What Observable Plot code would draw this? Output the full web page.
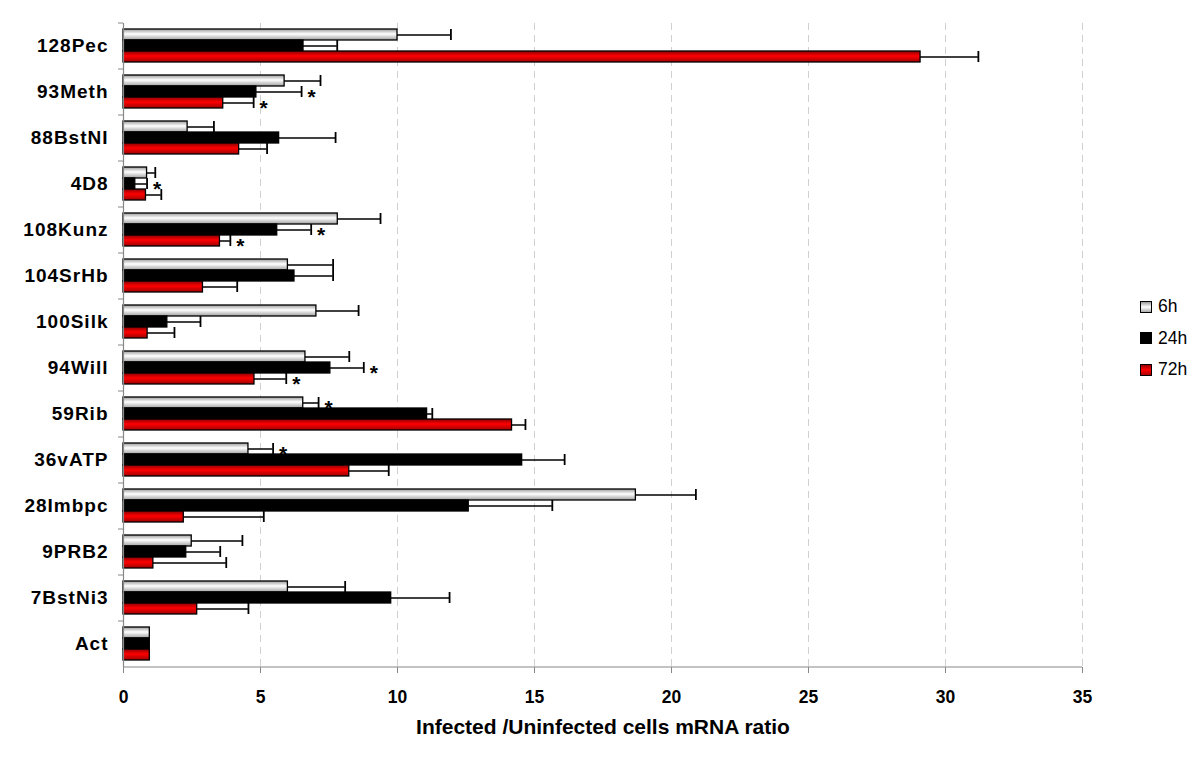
<!DOCTYPE html>
<html><head><meta charset="utf-8">
<script src="https://cdn.jsdelivr.net/npm/d3@7"></script>
<script src="https://cdn.jsdelivr.net/npm/@observablehq/plot@0.6"></script>
<style>
body{margin:0;background:#fff;}
#wrap{position:relative;width:1200px;height:761px;}
#legend{position:absolute;left:1140px;top:291px;font-family:"Liberation Sans",Arial,sans-serif;font-size:17.5px;color:#000;}
#legend .item{display:flex;align-items:center;height:31.5px;}
#legend .sw{width:10px;height:10px;border:1px solid #000;margin-right:6px;box-sizing:content-box;}
</style></head><body><div id="wrap"></div>
<script>
const categories = ["128Pec","93Meth","88BstNI","4D8","108Kunz","104SrHb","100Silk","94Will","59Rib","36vATP","28Imbpc","9PRB2","7BstNi3","Act"];
const series = ["6h","24h","72h"];
const mean6h  = [10.0, 5.88, 2.34, 0.86, 7.82, 6.0, 7.04, 6.64, 6.56, 4.56, 18.7, 2.49, 6.0, 0.96];
const err6h   = [11.95, 7.19, 3.3, 1.16, 9.38, 7.65, 8.58, 8.24, 7.12, 5.46, 20.89, 4.34, 8.09, null];
const mean24h = [6.57, 4.85, 5.68, 0.43, 5.61, 6.24, 1.6, 7.55, 11.08, 14.55, 12.6, 2.29, 9.77, 0.96];
const err24h  = [7.8, 6.5, 7.74, 0.86, 6.85, 7.65, 2.81, 8.77, 11.27, 16.1, 15.65, 3.53, 11.9, null];
const mean72h = [29.09, 3.64, 4.22, 0.82, 3.52, 2.9, 0.88, 4.78, 14.18, 8.24, 2.2, 1.09, 2.69, 0.96];
const err72h  = [31.2, 4.75, 5.24, 1.38, 3.9, 4.15, 1.86, 5.94, 14.67, 9.68, 5.12, 3.75, 4.56, null];
const star6h  = [0,0,0,0,0,0,0,0,1,1,0,0,0,0];
const star24h = [0,1,0,1,1,0,0,1,0,0,0,0,0,0];
const star72h = [0,1,0,0,1,0,0,1,0,0,0,0,0,0];
const xTicks = [0,5,10,15,20,25,30,35];
const xTitle = "Infected /Uninfected cells mRNA ratio";

const means = {"6h": mean6h, "24h": mean24h, "72h": mean72h};
const errs = {"6h": err6h, "24h": err24h, "72h": err72h};
const stars = {"6h": star6h, "24h": star24h, "72h": star72h};
const rows = {};
for (const s of series) rows[s] = categories.map((c, i) => ({cat: c, s, v: means[s][i], e: errs[s][i], star: stars[s][i]}));

const W = 1200, H = 761, mT = 23, mB = 94, mL = 123, mR = 118;
const pad = 0.2826;
const step = (H - mT - mB) / (categories.length - pad + pad);
const bw = step * (1 - pad), third = bw / 3;
const fills = {"6h": "url(#g6)", "24h": "#000", "72h": "url(#g72)"};
const font = "'Liberation Sans', Arial, sans-serif";

const defs = () => {
  const svg = d3.create("svg:defs");
  const g1 = svg.append("linearGradient").attr("id","g6").attr("x1",0).attr("y1",0).attr("x2",0).attr("y2",1);
  g1.append("stop").attr("offset","0").attr("stop-color","#9a9a9a");
  g1.append("stop").attr("offset","0.45").attr("stop-color","#ffffff");
  g1.append("stop").attr("offset","1").attr("stop-color","#a0a0a0");
  const g2 = svg.append("linearGradient").attr("id","g72").attr("x1",0).attr("y1",0).attr("x2",0).attr("y2",1);
  g2.append("stop").attr("offset","0").attr("stop-color","#8a0000");
  g2.append("stop").attr("offset","0.45").attr("stop-color","#ff0000");
  g2.append("stop").attr("offset","1").attr("stop-color","#a00000");
  return svg.node();
};

const marks = [defs];
marks.push(Plot.ruleX(xTicks.slice(1), {stroke: "#d0d0d0", strokeDasharray: "7,5", strokeWidth: 1}));
series.forEach((s, k) => {
  const iT = k * third, iB = (2 - k) * third;
  const dy = (k - 1) * third;
  const data = rows[s];
  marks.push(Plot.barX(data, {y: "cat", x: "v", fill: fills[s], stroke: "#000", strokeWidth: 1.3, insetTop: iT, insetBottom: iB}));
  const ed = data.filter(d => d.e != null);
  marks.push(Plot.ruleY(ed, {y: "cat", x1: "v", x2: "e", dy, stroke: "#000", strokeWidth: 1.5}));
  marks.push(Plot.tickX(ed, {y: "cat", x: "e", stroke: "#000", strokeWidth: 1.8, insetTop: iT, insetBottom: iB}));
  marks.push(Plot.text(ed.filter(d => d.star), {y: "cat", x: "e", text: () => "*", dx: 10, dy: dy + 5, fontSize: 21, fontWeight: "bold", fontFamily: font, fill: "#000"}));
});
marks.push(Plot.ruleX([0], {stroke: "#888", strokeWidth: 1.2}));
marks.push(Plot.ruleY(categories, {y: d => d, x1: 0, x2: 0, insetLeft: -5, dy: -step / 2, stroke: "#888"}));
marks.push(Plot.ruleY([categories[categories.length - 1]], {y: d => d, x1: 0, x2: xTicks[xTicks.length - 1], dy: step / 2, stroke: "#888", strokeWidth: 1.2}));
marks.push(Plot.axisX({ticks: xTicks, tickSize: 6, tickPadding: 17, fontSize: 17.5, fontWeight: "bold", fontFamily: font, label: null, stroke: "#888"}));
marks.push(Plot.axisY({tickSize: 0, tickPadding: 15, fontSize: 19, fontWeight: "bold", fontFamily: font, label: null, style: {letterSpacing: "1px"}}));
marks.push(Plot.text([xTitle], {frameAnchor: "bottom", dy: 66, fontSize: 21, fontWeight: "bold", fontFamily: font, fill: "#000"}));

const chart = Plot.plot({
  width: W, height: H, marginTop: mT, marginBottom: mB, marginLeft: mL, marginRight: mR,
  x: {domain: [0, 35]},
  y: {domain: categories, paddingInner: pad, paddingOuter: pad / 2},
  style: {fontFamily: font, color: "#000", background: "#fff"},
  marks
});
chart.querySelectorAll("g[aria-label='y-axis tick label'] text").forEach(t => t.style.letterSpacing = "1px");
document.getElementById("wrap").appendChild(chart);

const leg = document.createElement("div");
leg.id = "legend";
const swStyle = {"6h": "background:linear-gradient(#999,#fff,#aaa)", "24h": "background:#000", "72h": "background:linear-gradient(#900,#f00,#a00)"};
leg.innerHTML = series.map(s => `<div class="item"><span class="sw" style="${swStyle[s]}"></span><span>${s}</span></div>`).join("");
document.getElementById("wrap").appendChild(leg);
</script></body></html>
